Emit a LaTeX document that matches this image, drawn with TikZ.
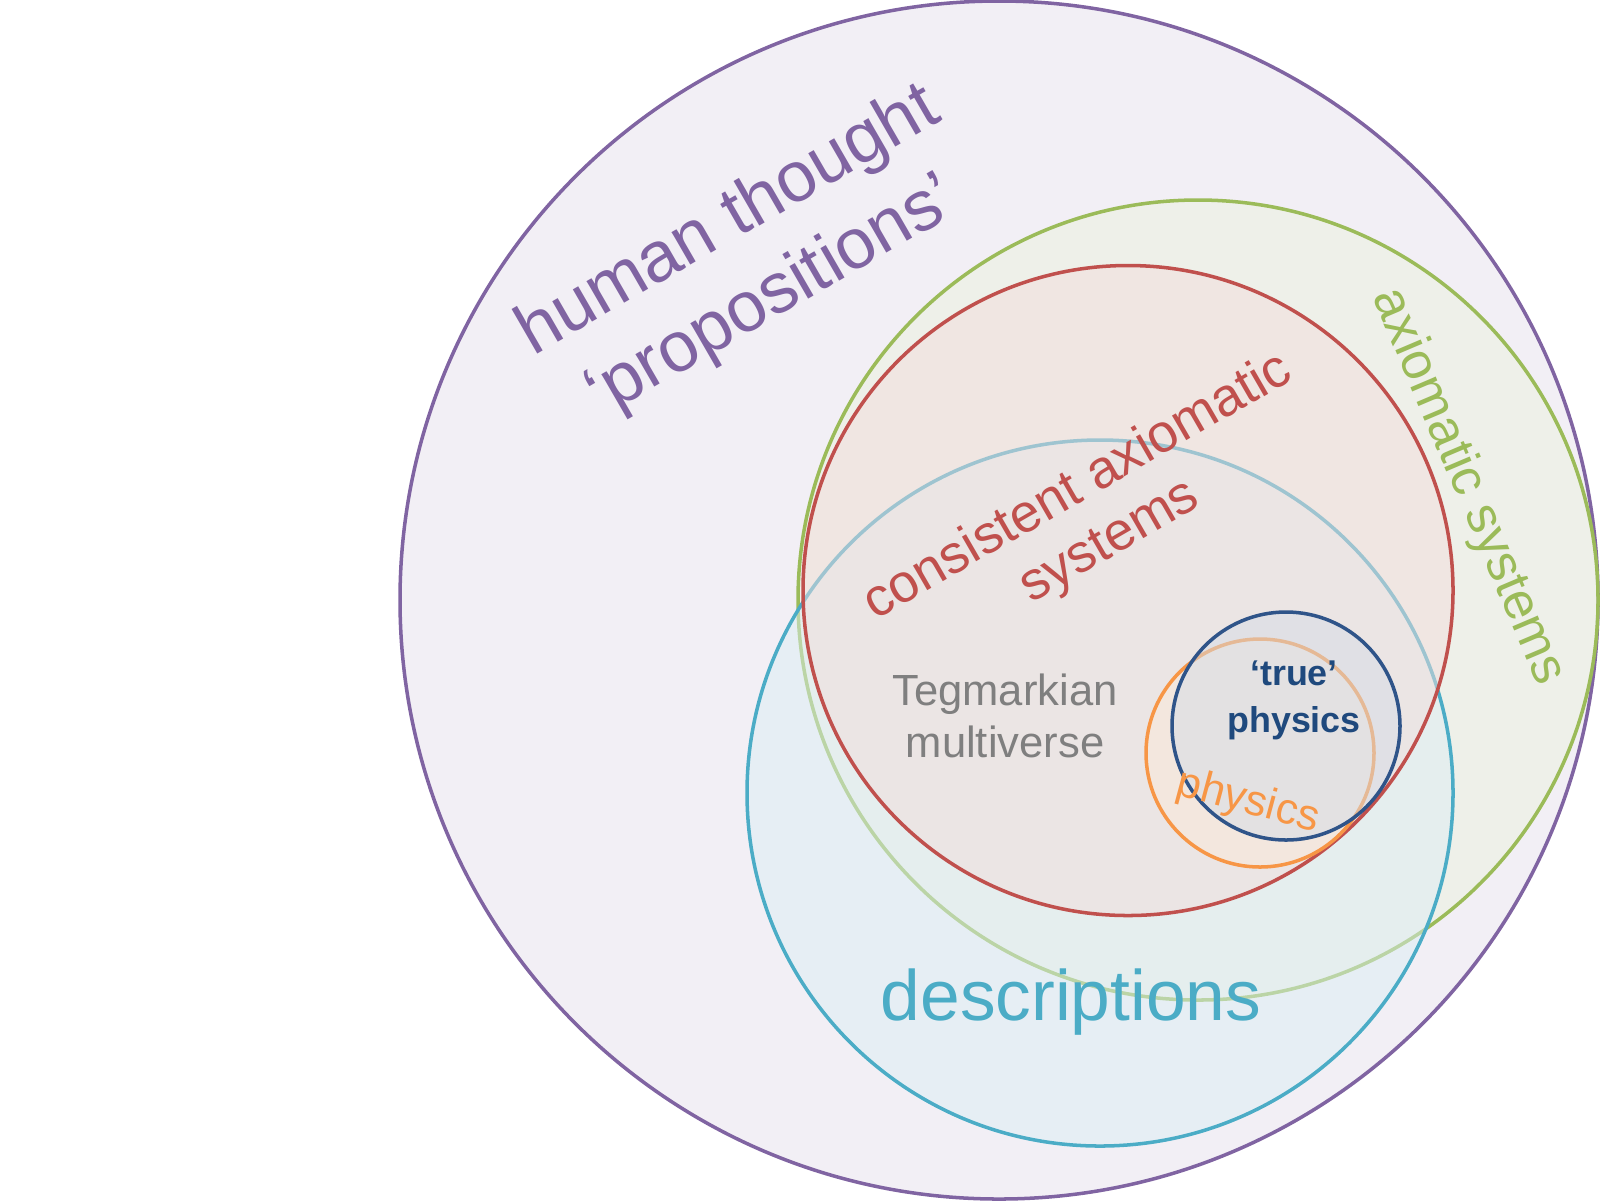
\documentclass[tikz,border=0pt]{standalone}
\usepackage{fontspec}
\setmainfont{Liberation Sans}
\usetikzlibrary{positioning}
\definecolor{thoughtc}{HTML}{8064A2}
\definecolor{axiomc}{HTML}{9BBB59}
\definecolor{consistc}{HTML}{C0504D}
\definecolor{descrc}{HTML}{4BACC6}
\definecolor{physc}{HTML}{F79646}
\definecolor{truec}{HTML}{2F5489}
\definecolor{truetext}{HTML}{1F497D}
\definecolor{tegc}{HTML}{7F7F7F}

\begin{document}
\begin{tikzpicture}[
  set/.style={circle, draw=#1, fill=#1!20, fill opacity=0.5, line width=1pt,
              inner sep=0pt, outer sep=0pt},
  lbl/.style={inner sep=0pt, align=center, text=#1}
]
\useasboundingbox (0,0) rectangle (16,-12);
\node[set=thoughtc, minimum size=11.98cm] (thought) at (9.99,-6.00) {};
\node[set=axiomc, minimum size=8.00cm] (axiom) at (11.98,-6.00) {};
\node[set=descrc, minimum size=7.06cm] (descr) at (11.00,-7.93) {};
\node[set=consistc, minimum size=6.50cm] (consist) at (11.28,-5.905) {};
\node[set=physc, minimum size=2.28cm] (phys) at (12.60,-7.53) {};
\node[set=truec, minimum size=2.28cm] (truephys) at (12.86,-7.26) {};

\node[lbl=thoughtc, rotate=30, font=\fontsize{20.2}{25}\selectfont]
  (thoughttxt) at (7.51,-2.60) {human thought\\`propositions'};
\node[lbl=axiomc, rotate=-67, font=\fontsize{14.8}{18}\selectfont]
  (axiomtxt) at (14.68,-4.87) {axiomatic systems};
\node[lbl=consistc, rotate=30, font=\fontsize{15.3}{18}\selectfont]
  (consisttxt) at (10.94,-5.15) {consistent axiomatic\\systems};
\node[lbl=tegc, font=\fontsize{12.4}{14.8}\selectfont]
  (tegtxt) at (10.05,-7.16) {Tegmarkian\\multiverse};
\node[lbl=truetext, font=\bfseries\fontsize{10.2}{13.4}\selectfont]
  (truetxt) at (12.94,-7.00) {`true'\\physics};
\node[lbl=physc, rotate=-15, font=\fontsize{12.4}{14}\selectfont]
  (phystxt) at (12.48,-8.02) {physics};
\node[lbl=descrc, font=\fontsize{20.3}{24}\selectfont]
  (descrtxt) at (10.71,-10.02) {descriptions};
\end{tikzpicture}
\end{document}
